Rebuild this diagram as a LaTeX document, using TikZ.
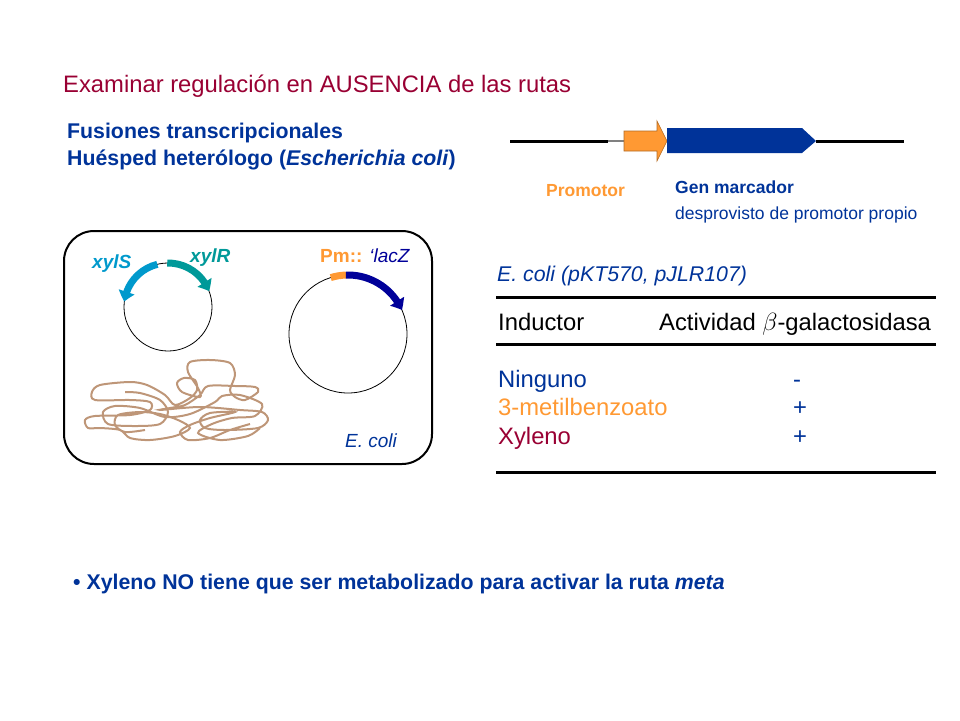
\documentclass[tikz,border=0pt]{standalone}
\usepackage{fontspec}
\setmainfont{Liberation Sans}
\usetikzlibrary{arrows.meta,bending}
\definecolor{titlered}{RGB}{153,0,51}
\definecolor{navy}{RGB}{0,51,153}
\definecolor{promorange}{RGB}{255,153,51}
\definecolor{xylsblue}{RGB}{0,153,204}
\definecolor{xylrteal}{RGB}{0,153,153}
\definecolor{lacblue}{RGB}{0,0,153}
\definecolor{dnabrown}{RGB}{190,150,120}

\begin{document}
\begin{tikzpicture}[x=1pt,y=1pt,
    txt/.style={inner sep=0pt,anchor=base west},
    big/.style={font=\fontsize{23.8}{28}\selectfont},
    mid/.style={font=\fontsize{21.3}{25}\selectfont},
    lbl/.style={font=\fontsize{17.5}{21}\selectfont},
    tiny/.style={font=\fontsize{19}{22}\selectfont},
    gene/.style={line width=7pt,-{Triangle[width=16pt,length=10pt,bend]}},
    tabrule/.style={line width=3pt}]
    \useasboundingbox (0,0) rectangle (960,-720);

    \node[txt,big,text=titlered] (title) at (63,-92.5) {Examinar regulación en AUSENCIA de las rutas};
    \node[txt,mid,text=navy] (fusion) at (67,-138.5) {\bfseries Fusiones transcripcionales};
    \node[txt,mid,text=navy] (host) at (67,-165) {\bfseries Huésped heterólogo (\textit{Escherichia coli})};

    \coordinate (dnaL) at (510,-141);
    \coordinate (dnaR) at (904,-141);
    \draw[line width=3pt] (dnaL) -- (608,-141);
    \draw[line width=2pt,gray] (608,-141) -- (624,-141);
    \draw[line width=3pt] (816,-141) -- (dnaR);
    \filldraw[fill=promorange,draw=promorange!70!black,line width=0.6pt] (624,-131) -- (657,-131) -- (657,-121) -- (667,-141) -- (657,-161) -- (657,-151) -- (624,-151) -- cycle;
    \fill[navy] (667,-128) -- (802,-128) -- (816,-141) -- (802,-153) -- (667,-153) -- cycle;
    \node[txt,lbl,text=promorange] (prom) at (546,-196) {\bfseries Promotor};
    \node[txt,lbl,text=navy] (marker) at (675,-193) {\bfseries Gen marcador};
    \node[txt,lbl,text=navy] (nopro) at (675,-219) {desprovisto de promotor propio};

    \draw[line width=2pt,rounded corners=30pt] (64,-231) rectangle (432,-464);

    \coordinate (smallp) at (168,-307);
    \draw[line width=0.8pt] (smallp) circle[radius=44];
    \draw[gene,xylsblue] ([shift={(104:44)}]smallp) arc[start angle=104,end angle=173,radius=44];
    \draw[gene,xylrteal] ([shift={(91:44)}]smallp) arc[start angle=91,end angle=21,radius=44];
    \node[txt,tiny,text=xylsblue] (xyls) at (92,-268) {\bfseries\itshape xylS};
    \node[txt,tiny,text=xylrteal] (xylr) at (190,-262) {\bfseries\itshape xylR};

    \coordinate (bigp) at (348,-334);
    \draw[line width=0.8pt] (bigp) circle[radius=59];
    \draw[line width=7pt,promorange] ([shift={(107:59)}]bigp) arc[start angle=107,end angle=92,radius=59];
    \draw[gene,lacblue] ([shift={(92:59)}]bigp) arc[start angle=92,end angle=24,radius=59];
    \node[txt,tiny] (pmlac) at (320,-262) {\textcolor{promorange}{\bfseries Pm::} \textcolor{lacblue}{\itshape ‘lacZ}};
    \node[txt,tiny,text=navy] (ecoli) at (345,-447) {\itshape E. coli};

    \draw[dnabrown,line width=2pt] plot[smooth,tension=0.5] coordinates {
        (145,-430) (125,-432) (115,-425) (118,-415) (140,-412) (160,-414) (178,-420) (190,-428) (175,-436) (150,-440) (130,-438) (120,-430)
        (100,-428) (88,-428) (85,-420) (95,-416) (130,-415) (150,-410) (150,-402) (130,-400) (95,-400) (92,-392) (100,-385) (130,-382) (147,-385) (165,-395) (175,-405)
        (190,-398) (197,-390) (195,-380) (184,-378) (177,-383) (182,-392) (200,-397)
        (198,-388) (188,-372) (190,-362) (210,-360) (230,-363) (235,-375) (230,-390) (235,-397)
        (245,-400) (258,-392) (255,-387) (235,-386) (208,-386)
        (200,-395) (185,-405) (170,-408) (160,-410) (200,-407) (240,-410) (262,-412) (268,-420) (258,-428) (225,-430) (205,-428) (200,-420) (210,-413) (235,-412)
        (210,-418) (190,-425) (180,-432) (188,-440) (210,-438) (230,-430) (250,-424)};
    \draw[dnabrown,line width=2pt] plot[smooth,tension=0.5] coordinates {
        (125,-392) (140,-393) (160,-400) (168,-412) (160,-424) (135,-426) (108,-424) (103,-412) (115,-406) (140,-408)
        (165,-417) (190,-414) (215,-402) (222,-396) (240,-395) (262,-404) (255,-416) (232,-418) (212,-424) (198,-433) (220,-440) (248,-436) (260,-428)};

    \node[txt,mid,text=navy] (strain) at (497,-281) {\itshape E. coli (pKT570, pJLR107)};
    \draw[tabrule] (496,-297) -- (936,-297);
    \draw[tabrule] (496,-344) -- (936,-344);
    \draw[tabrule] (496,-472) -- (936,-472);
    \node[txt,big] (inductor) at (498,-330) {Inductor};
    \node[txt,big] (activity) at (659,-330) {Actividad $\beta$-galactosidasa};
    \node[txt,big,text=navy] (none) at (498,-387) {Ninguno};
    \node[txt,big,text=promorange] (mbz) at (498,-415) {3-metilbenzoato};
    \node[txt,big,text=titlered] (xyl) at (498,-444) {Xyleno};
    \node[inner sep=0pt,anchor=base,big,text=navy] (resnone) at (797,-387) {-};
    \node[inner sep=0pt,anchor=base,big,text=navy] (resmbz) at (800,-415) {+};
    \node[inner sep=0pt,anchor=base,big,text=navy] (resxyl) at (800,-444) {+};

    \node[txt,mid,text=navy] (note) at (73,-589) {\bfseries • Xyleno NO tiene que ser metabolizado para activar la ruta \textit{meta}};
\end{tikzpicture}
\end{document}
